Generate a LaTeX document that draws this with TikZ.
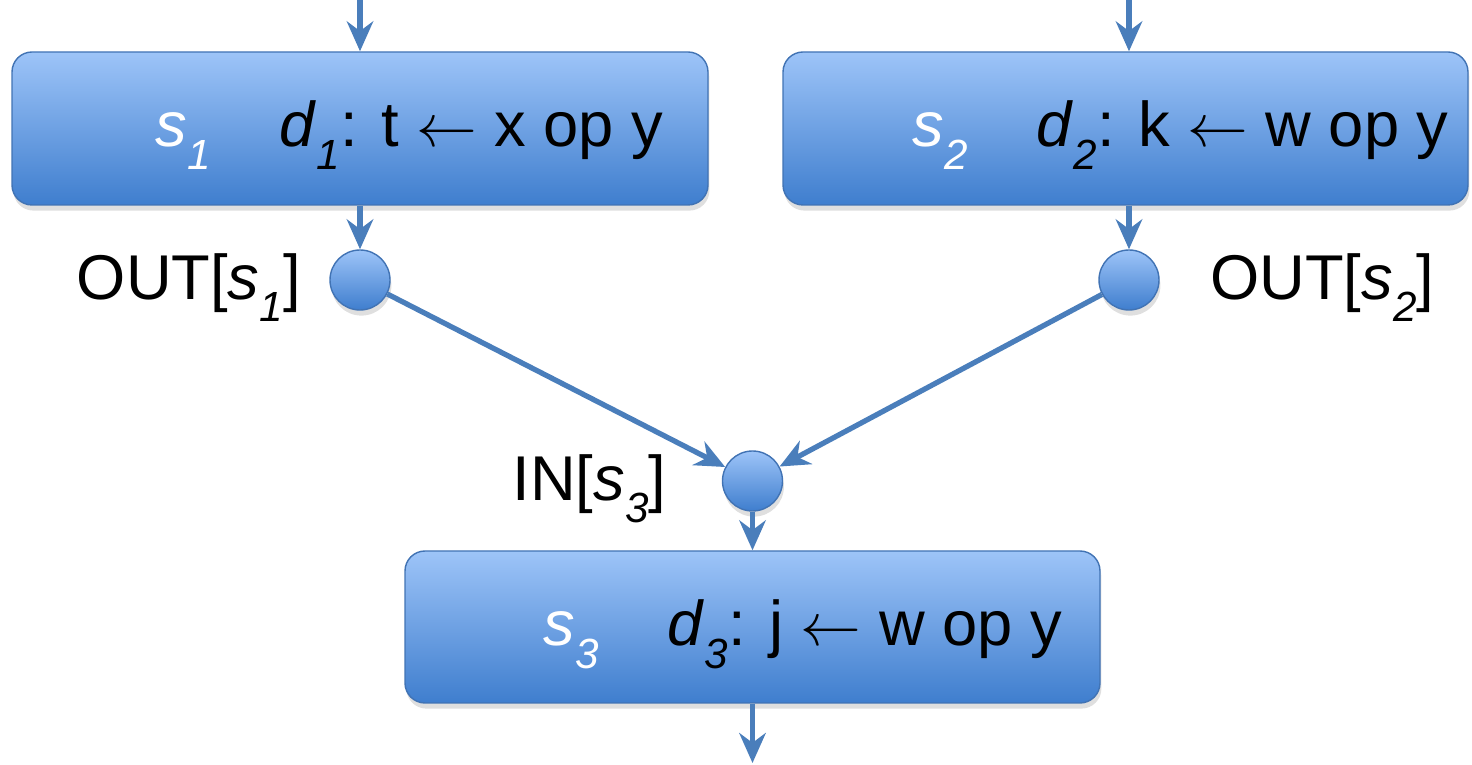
\documentclass[tikz,border=0pt]{standalone}
\usepackage{fontspec}
\setmainfont{Liberation Sans}
\usepackage{xcolor}
\usepackage{tikz}
\usetikzlibrary{arrows.meta,positioning,shadows}
\definecolor{flowblue}{HTML}{4A7EBB}
\definecolor{boxtop}{HTML}{9DC4F8}
\definecolor{boxbottom}{HTML}{3F7ECE}
\definecolor{boxedge}{HTML}{4173B4}
\tikzset{
  stmt/.style={rectangle,rounded corners=0.2cm,draw=boxedge,top color=boxtop,bottom color=boxbottom,minimum height=1.53cm,drop shadow={opacity=0.25,shadow xshift=0.4pt,shadow yshift=-1.6pt}},
  point/.style={circle,draw=boxedge,top color=boxtop,bottom color=boxbottom,minimum size=0.6cm,inner sep=0pt,drop shadow={opacity=0.25,shadow xshift=0.4pt,shadow yshift=-1.6pt}},
  stmttext/.style={anchor=base west,inner sep=0pt,font=\fontsize{18}{20}\selectfont},
  setlabel/.style={inner sep=0pt,font=\fontsize{18}{20}\selectfont},
  arrow/.style={-{Stealth[length=8.5pt,width=7.5pt]},line width=1.5pt,draw=flowblue}
}
\newcommand{\sub}[2]{\textit{#1}\raisebox{-0.35em}{\fontsize{12}{12}\selectfont\textit{#2}}}
\newcommand{\stmtline}[4]{\textcolor{white}{\sub{s}{#1}}\hspace{0.69cm}\sub{d}{#1}: #2 $\leftarrow$ #3 op #4}

\begin{document}
\begin{tikzpicture}
  \useasboundingbox (0,0) rectangle (14.72,7.65);
  \node[stmt,minimum width=6.96cm] (s1) at (3.60,6.365) {};
  \node[stmt,minimum width=6.85cm] (s2) at (11.255,6.365) {};
  \node[stmt,minimum width=6.95cm,minimum height=1.52cm] (s3) at (7.525,1.38) {};
  \node[stmttext] (s1txt) at (1.55,6.18) {\stmtline{1}{t}{x}{y}};
  \node[stmttext] (s2txt) at (9.12,6.18) {\stmtline{2}{k}{w}{y}};
  \node[stmttext] (s3txt) at (5.43,1.19) {\stmtline{3}{j}{w}{y}};

  \node[point] (out1) at (3.60,4.85) {};
  \node[point] (out2) at (11.29,4.85) {};
  \node[point] (in3) at (7.525,2.84) {};
  \node[setlabel,left=0.28cm of out1,yshift=-0.08cm] (out1lbl) {OUT[\sub{s}{1}]};
  \node[setlabel,right=0.5cm of out2,yshift=-0.08cm] (out2lbl) {OUT[\sub{s}{2}]};
  \node[setlabel,left=0.55cm of in3,yshift=-0.08cm] (in3lbl) {IN[\sub{s}{3}]};

  \coordinate (top1) at (3.60,7.65);
  \coordinate (top2) at (11.29,7.65);
  \coordinate (bot3) at (7.525,0.02);

  \draw[arrow] (top1) -- (s1.north);
  \draw[arrow] (top2) -- (top2 |- s2.north);
  \draw[arrow] (s1.south) -- (out1.north);
  \draw[arrow] (out2 |- s2.south) -- (out2.north);
  \draw[arrow] (out1) -- (in3);
  \draw[arrow] (out2) -- (in3);
  \draw[arrow] (in3.south) -- (s3.north);
  \draw[arrow] (s3.south) -- (bot3);
\end{tikzpicture}
\end{document}
